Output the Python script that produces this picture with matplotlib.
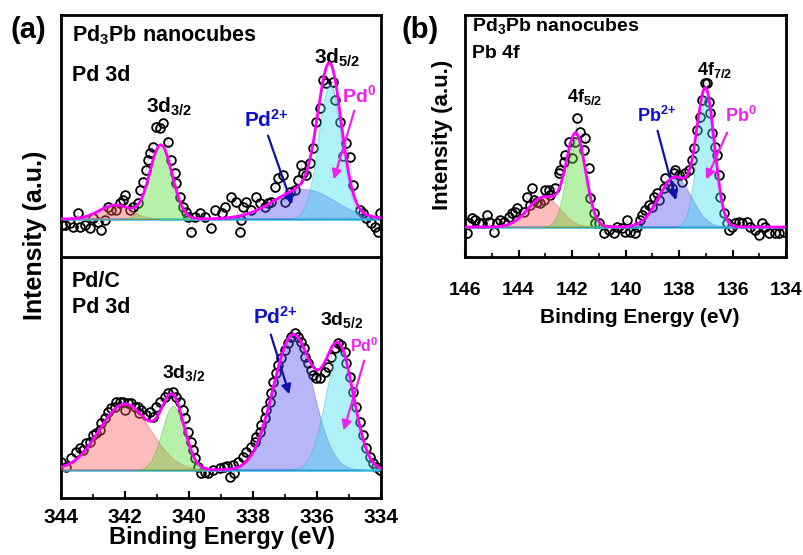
import numpy as np
import matplotlib
matplotlib.use("Agg")
import matplotlib.pyplot as plt

plt.rcParams['font.family'] = ['Liberation Sans', 'DejaVu Sans']
plt.rcParams['font.weight'] = 'bold'
plt.rcParams['mathtext.fontset'] = 'custom'
plt.rcParams['mathtext.rm'] = 'Liberation Sans:bold'
plt.rcParams['mathtext.bf'] = 'Liberation Sans:bold'
plt.rcParams['mathtext.it'] = 'Liberation Sans:bold'
plt.rcParams['mathtext.default'] = 'bf'

# ---------------- data: (a) top, Pd3Pb nanocubes Pd 3d ----------------
top_x = [343.98, 343.88, 343.73, 343.63, 343.47, 343.41, 343.26, 343.10, 343.00, 342.84,
         342.75, 342.63, 342.53, 342.44, 342.28, 342.17, 342.06, 342.00, 341.85, 341.75,
         341.60, 341.54, 341.44, 341.34, 341.28, 341.23, 341.13, 341.03, 340.92, 340.81,
         340.66, 340.56, 340.45, 340.41, 340.29, 340.19, 340.09, 340.03, 339.94, 339.82,
         339.67, 339.50, 339.31, 339.20, 338.98, 338.88, 338.68, 338.52, 338.42, 338.37,
         338.31, 338.21, 338.05, 337.90, 337.79, 337.63, 337.53, 337.43, 337.32, 337.22,
         337.06, 337.01, 336.85, 336.70, 336.59, 336.49, 336.44, 336.33, 336.23, 336.13,
         336.02, 335.92, 335.81, 335.71, 335.50, 335.45, 335.29, 335.19, 335.08, 334.98,
         334.88, 334.67, 334.56, 334.46, 334.30, 334.20, 334.09, 334.02]
top_y = [-6, -6, -4, -8, 6, -8, -6, -9, 1, -3,
         -11, -1, 12, 9, 9, 16, 19, 24, 9, 12,
         16, 29, 37, 49, 59, 66, 72, 92, 91, 96,
         77, 59, 46, 36, 22, 12, 7, 2, -13, 2,
         6, 2, -9, 9, 6, 12, 22, 17, -13, -1,
         12, 17, 9, 22, 16, 12, 16, 17, 32, 41,
         44, 17, 27, 29, 39, 54, 46, 44, 56, 71,
         97, 111, 139, 136, 137, 119, 97, 63, 76, 62,
         34, 9, 6, 1, -4, -8, -13, 6]
# fitted components: Pd2+ 3d3/2, Pd0 3d3/2, Pd2+ 3d5/2, Pd0 3d5/2
top_centers = [342.30, 340.88, 336.40, 335.60]
top_heights = [14, 74, 30, 135]
top_sigmas = [0.50, 0.35, 0.95, 0.36]

# ---------------- data: (a) bottom, Pd/C Pd 3d ----------------
bot_x = [343.99, 343.83, 343.68, 343.52, 343.42, 343.31, 343.21, 343.10, 343.00, 342.90,
         342.79, 342.74, 342.63, 342.53, 342.43, 342.32, 342.27, 342.17, 342.06, 342.01,
         341.91, 341.80, 341.70, 341.59, 341.55, 341.49, 341.36, 341.23, 341.13, 341.02,
         340.92, 340.76, 340.66, 340.50, 340.40, 340.29, 340.19, 340.13, 340.03, 339.93,
         339.88, 339.82, 339.72, 339.62, 339.50, 339.40, 339.24, 339.03, 338.92, 338.82,
         338.72, 338.63, 338.58, 338.47, 338.31, 338.21, 338.05, 337.95, 337.90, 337.79,
         337.74, 337.63, 337.58, 337.48, 337.43, 337.38, 337.27, 337.22, 337.12, 337.01,
         336.91, 336.80, 336.70, 336.59, 336.49, 336.41, 336.37, 336.28, 336.20, 336.13,
         336.02, 335.92, 335.76, 335.66, 335.55, 335.45, 335.34, 335.24, 335.13, 335.08,
         334.98, 334.88, 334.77, 334.67, 334.56, 334.46, 334.35, 334.25, 334.15, 334.04]
bot_y = [8, 3, 12, 18, 22, 20, 27, 28, 35, 37,
         40, 47, 52, 58, 62, 63, 68, 68, 68, 60,
         67, 67, 63, 63, 57, 60, 55, 58, 53, 63,
         68, 73, 77, 78, 73, 68, 60, 52, 38, 28,
         20, 12, 3, -3, -2, -3, 0, 2, 3, 4,
         -7, 5, -3, 8, 13, 18, 23, 28, 33, 38,
         45, 52, 60, 68, 77, 88, 97, 105, 112, 120,
         127, 133, 137, 133, 128, 122, 113, 107, 100, 95,
         92, 92, 98, 103, 113, 122, 127, 125, 118, 107,
         93, 78, 63, 48, 35, 22, 13, 7, 3, 0]
bot_centers = [342.00, 340.50, 336.75, 335.30]
bot_heights = [66, 64, 135, 118]
bot_sigmas = [0.80, 0.35, 0.62, 0.45]

# ---------------- data: (b) Pd3Pb nanocubes Pb 4f ----------------
r_x = [145.93, 145.86, 145.74, 145.61, 145.49, 145.36, 145.18, 145.11, 144.93, 144.80,
       144.68, 144.55, 144.37, 144.24, 144.12, 144.06, 143.81, 143.68, 143.56, 143.50,
       143.43, 143.31, 143.19, 143.06, 143.00, 142.87, 142.81, 142.62, 142.50, 142.44,
       142.31, 142.25, 142.12, 142.00, 141.88, 141.81, 141.69, 141.56, 141.50, 141.38,
       141.32, 141.19, 141.13, 141.00, 140.81, 140.63, 140.44, 140.32, 140.13, 140.01,
       139.94, 139.82, 139.63, 139.57, 139.45, 139.38, 139.26, 139.13, 139.01, 138.95,
       138.82, 138.76, 138.57, 138.51, 138.38, 138.26, 138.20, 138.14, 138.01, 137.89,
       137.76, 137.64, 137.51, 137.45, 137.33, 137.20, 137.14, 137.02, 136.95, 136.89,
       136.83, 136.77, 136.64, 136.58, 136.52, 136.46, 136.33, 136.21, 136.14, 136.02,
       135.90, 135.77, 135.64, 135.46, 135.33, 135.15, 135.02, 134.90, 134.77, 134.65,
       134.40, 134.27, 134.09]
r_y = [-6, 4, 9, 7, 4, 4, 12, 5, -5, 4,
       7, 5, 10, 14, 15, 19, 15, 30, 22, 39,
       27, 25, 24, 27, 37, 37, 32, 39, 54, 57,
       65, 72, 85, 69, 85, 109, 95, 77, 89, 59,
       29, 14, 4, 4, -6, -3, -6, 0, -1, -5,
       7, -5, -6, 0, 7, 12, 17, 22, 20, 30,
       34, 27, 39, 49, 42, 39, 54, 57, 52, 45,
       54, 57, 67, 79, 97, 110, 127, 144, 144, 125,
       114, 94, 80, 72, 52, 30, 14, 4, -3, 0,
       4, 5, 4, 5, 0, -3, -8, 4, 0, -6,
       -6, -6, -5]
r_centers = [143.05, 141.85, 138.15, 137.00]
r_heights = [30, 90, 50, 131]
r_sigmas = [0.60, 0.36, 0.60, 0.33]

fill_colors = ['#ff6060', '#55dd33', '#5555ee', '#44dcee']
edge_colors = ['#dd4444', '#44aa22', '#4444bb', '#22aacc']

# ---------------- figure ----------------
fig = plt.figure(figsize=(8.04, 5.55), dpi=100)
axT = fig.add_axes([0.0759, 0.5351, 0.398, 0.4378])
axB = fig.add_axes([0.0759, 0.1027, 0.398, 0.4343])
axR = fig.add_axes([0.5784, 0.5369, 0.3993, 0.4360])


def draw(ax, x, y, centers, heights, sigmas, xlim, ylim):
    x = np.asarray(x, float)
    y = np.asarray(y, float)
    ax.plot(x, y, ls=':', color='#999999', lw=0.7, zorder=1)
    ax.plot(x, y, 'o', mfc='none', mec='black', ms=6.3, mew=1.3, zorder=2)
    grid = np.linspace(min(xlim), max(xlim), 800)
    total = np.zeros_like(grid)
    for c, h, s, fc, ec in zip(centers, heights, sigmas, fill_colors, edge_colors):
        g = h * np.exp(-(grid - c) ** 2 / (2 * s ** 2))
        total += g
        ax.fill_between(grid, 0, g, where=g > 0.3, facecolor=fc, alpha=0.42,
                        edgecolor=ec, lw=0.6, zorder=3)
    ax.plot(grid, np.zeros_like(grid), color='#33bbdd', lw=1.8, zorder=2.5)
    ax.plot(grid, total, color='#ff00ff', lw=2.0, zorder=4)
    ax.set_xlim(*xlim)
    ax.set_ylim(*ylim)
    ax.set_yticks([])
    for sp in ax.spines.values():
        sp.set_linewidth(2.0)


draw(axT, top_x, top_y, top_centers, top_heights, top_sigmas, (344, 334), (-39, 204))
draw(axB, bot_x, bot_y, bot_centers, bot_heights, bot_sigmas, (344, 334), (-28, 213))
draw(axR, r_x, r_y, r_centers, r_heights, r_sigmas, (146, 134), (-30, 212))

a_ticks = [344, 342, 340, 338, 336, 334]
b_ticks = [146, 144, 142, 140, 138, 136, 134]

axT.set_xticks([])
axB.set_xticks(a_ticks)
axB.set_xticks(np.arange(334, 345, 1), minor=True)
axB.set_xticklabels([str(t) for t in a_ticks])
axB.tick_params(axis='x', which='major', direction='in', length=5, width=1.5,
                labelsize=15, pad=7)
axB.tick_params(axis='x', which='minor', direction='in', length=3, width=1.2)

axR.set_xticks(b_ticks)
axR.set_xticks(np.arange(134, 147, 1), minor=True)
axR.set_xticklabels([str(t) for t in b_ticks])
axR.tick_params(axis='x', which='major', direction='in', length=5, width=1.5,
                labelsize=14, pad=18)
axR.tick_params(axis='x', which='minor', direction='in', length=3, width=1.2)

# axis labels
fig.text(222 / 804, 1 - 544 / 555, 'Binding Energy (eV)', ha='center', va='baseline',
         fontsize=17, fontweight='bold')
fig.text(640 / 804, 1 - 323 / 555, 'Binding Energy (eV)', ha='center', va='baseline',
         fontsize=15, fontweight='bold')
fig.text(35 / 804, 1 - 235 / 555, 'Intensity (a.u.)', ha='center', va='center',
         rotation=90, fontsize=18, fontweight='bold')
fig.text(443 / 804, 1 - 135 / 555, 'Intensity (a.u.)', ha='center', va='center',
         rotation=90, fontsize=16, fontweight='bold')
fig.text(28 / 804, 1 - 30 / 555, '(a)', ha='center', va='center', fontsize=21, fontweight='bold')
fig.text(420 / 804, 1 - 30 / 555, '(b)', ha='center', va='center', fontsize=21, fontweight='bold')

# ---- annotations: top-left ----
axT.text(0.034, 0.918, r'Pd$_3$Pb nanocubes', transform=axT.transAxes, fontsize=15.5,
         va='center', ha='left')
axT.text(0.034, 0.753, 'Pd 3d', transform=axT.transAxes, fontsize=15.5, va='center', ha='left')
axT.text(341.35, 106, r'3d$_{3/2}$', fontsize=15, va='baseline', ha='left')
axT.text(336.08, 155, r'3d$_{5/2}$', fontsize=15, va='baseline', ha='left')
axT.text(338.28, 92, r'Pd$^{2{+}}$', fontsize=15, va='baseline', ha='left', color='#1010cc')
axT.text(335.22, 117, r'Pd$^{0}$', fontsize=14, va='baseline', ha='left', color='#ee22ee')
axT.annotate('', xy=(336.75, 12), xytext=(337.56, 86),
             arrowprops=dict(arrowstyle='-|>', color='#1010aa', lw=1.6, mutation_scale=14))
axT.annotate('', xy=(335.5, 37), xytext=(334.81, 111),
             arrowprops=dict(arrowstyle='-|>', color='#ee22ee', lw=1.6, mutation_scale=14))

# ---- annotations: bottom-left ----
axB.text(0.034, 0.90, 'Pd/C', transform=axB.transAxes, fontsize=15.5, va='center', ha='left')
axB.text(0.034, 0.79, 'Pd 3d', transform=axB.transAxes, fontsize=15.5, va='center', ha='left')
axB.text(340.84, 92, r'3d$_{3/2}$', fontsize=14, va='baseline', ha='left')
axB.text(335.92, 145, r'3d$_{5/2}$', fontsize=14, va='baseline', ha='left')
axB.text(338.0, 146, r'Pd$^{2{+}}$', fontsize=15, va='baseline', ha='left', color='#1010cc')
axB.text(334.97, 118, r'Pd$^{0}$', fontsize=11.5, va='baseline', ha='left', color='#ee22ee')
axB.annotate('', xy=(336.84, 73), xytext=(337.47, 138),
             arrowprops=dict(arrowstyle='-|>', color='#1010aa', lw=1.6, mutation_scale=14))
axB.annotate('', xy=(335.19, 37), xytext=(334.5, 112),
             arrowprops=dict(arrowstyle='-|>', color='#ee22ee', lw=1.6, mutation_scale=14))

# ---- annotations: right ----
axR.text(0.022, 0.955, r'Pd$_3$Pb nanocubes', transform=axR.transAxes, fontsize=14,
         va='center', ha='left')
axR.text(0.022, 0.84, 'Pb 4f', transform=axR.transAxes, fontsize=14, va='center', ha='left')
axR.text(142.19, 125, r'4f$_{5/2}$', fontsize=13, va='baseline', ha='left')
axR.text(137.33, 152, r'4f$_{7/2}$', fontsize=13, va='baseline', ha='left')
axR.text(139.57, 105, r'Pb$^{2{+}}$', fontsize=13, va='baseline', ha='left', color='#1010cc')
axR.text(136.28, 105, r'Pb$^{0}$', fontsize=13, va='baseline', ha='left', color='#ee22ee')
axR.annotate('', xy=(138.09, 24), xytext=(138.83, 99),
             arrowprops=dict(arrowstyle='-|>', color='#1010aa', lw=1.6, mutation_scale=14))
axR.annotate('', xy=(137.03, 45), xytext=(136.16, 97),
             arrowprops=dict(arrowstyle='-|>', color='#ee22ee', lw=1.6, mutation_scale=14))

fig.savefig('out.png', dpi=100)
